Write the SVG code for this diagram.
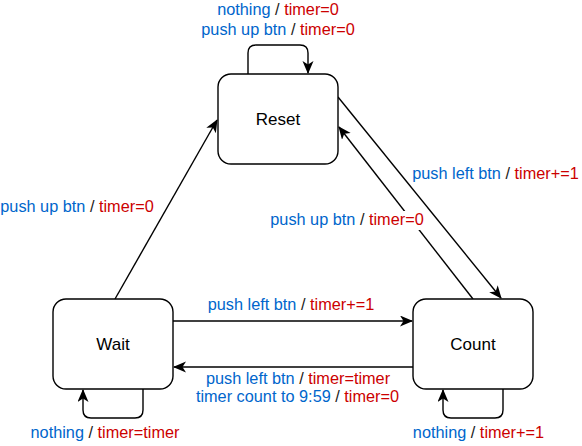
<svg xmlns="http://www.w3.org/2000/svg" width="582" height="446" viewBox="0 0 582 446">
<style>
.box{fill:#fff;stroke:#000;stroke-width:1.4}
.edge{fill:none;stroke:#000;stroke-width:1.4;marker-end:url(#arr)}
.node{font-family:"Liberation Sans",Arial,sans-serif;font-size:17px;fill:#000;text-anchor:middle}
.lbl{font-family:"Liberation Sans",Arial,sans-serif;font-size:16.3px;fill:#1a1a1a;text-anchor:middle}
.b{fill:#0066CC}
.r{fill:#CC0000}
</style>
<defs>
<marker id="arr" markerUnits="userSpaceOnUse" markerWidth="14" markerHeight="12" refX="12" refY="5.5" orient="auto">
<path d="M0,0 L13,5.5 L0,11 L3.5,5.5 z" fill="#000"/>
</marker>
</defs>
<g id="connectors">
<path class="edge" d="M248,74 V53 Q248,45 256,45 H300 Q308,45 308,53 V73"/>
<path class="edge" d="M143,389 V410 Q143,418 135,418 H91 Q83,418 83,410 V390"/>
<path class="edge" d="M503,389 V410 Q503,418 495,418 H451 Q443,418 443,410 V390"/>
<path class="edge" d="M115,299 L217,120"/>
<path class="edge" d="M338,97 L501,298"/>
<path class="edge" d="M473,299 L339,127"/>
<path class="edge" d="M173,321 H412"/>
<path class="edge" d="M413,367 H174"/>
</g>
<g id="reset"><rect class="box" x="218" y="74" width="120" height="90" rx="13"/><text class="node" x="278" y="125">Reset</text></g>
<g id="wait"><rect class="box" x="53" y="299" width="120" height="90" rx="13"/><text class="node" x="113" y="350">Wait</text></g>
<g id="count"><rect class="box" x="413" y="299" width="120" height="90" rx="13"/><text class="node" x="473" y="350">Count</text></g>
<g id="labels">
<text class="lbl" x="278" y="15"><tspan class="b">nothing</tspan> / <tspan class="r">timer=0</tspan></text>
<text class="lbl" x="278" y="35"><tspan class="b">push up btn</tspan> / <tspan class="r">timer=0</tspan></text>
<text class="lbl" x="77" y="212"><tspan class="b">push up btn</tspan> / <tspan class="r">timer=0</tspan></text>
<text class="lbl" x="495.5" y="179"><tspan class="b">push left btn</tspan> / <tspan class="r">timer+=1</tspan></text>
<rect x="268" y="211" width="158" height="19" fill="#fff"/>
<text class="lbl" x="347" y="225"><tspan class="b">push up btn</tspan> / <tspan class="r">timer=0</tspan></text>
<text class="lbl" x="291" y="310"><tspan class="b">push left btn</tspan> / <tspan class="r">timer+=1</tspan></text>
<text class="lbl" x="298" y="384"><tspan class="b">push left btn</tspan> / <tspan class="r">timer=timer</tspan></text>
<text class="lbl" x="297.5" y="402"><tspan class="b">timer count to 9:59</tspan> / <tspan class="r">timer=0</tspan></text>
<text class="lbl" x="105" y="438"><tspan class="b">nothing</tspan> / <tspan class="r">timer=timer</tspan></text>
<text class="lbl" x="478.5" y="438"><tspan class="b">nothing</tspan> / <tspan class="r">timer+=1</tspan></text>
</g>
</svg>
